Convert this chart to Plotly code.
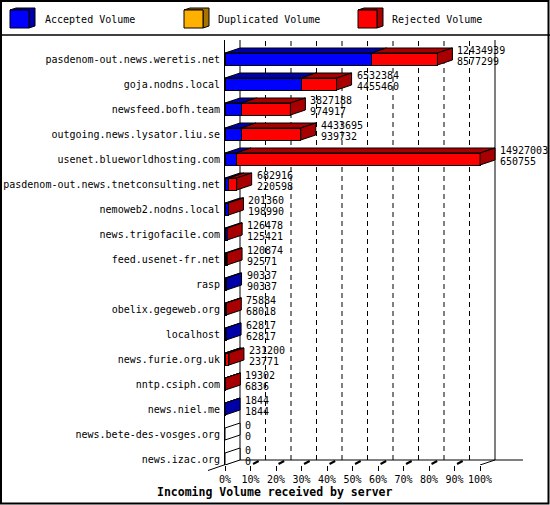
import plotly.graph_objects as go

# ---------------- data ----------------
hosts = [
    "pasdenom-out.news.weretis.net",
    "goja.nodns.local",
    "newsfeed.bofh.team",
    "outgoing.news.lysator.liu.se",
    "usenet.blueworldhosting.com",
    "pasdenom-out.news.tnetconsulting.net",
    "nemoweb2.nodns.local",
    "news.trigofacile.com",
    "feed.usenet-fr.net",
    "rasp",
    "obelix.gegeweb.org",
    "localhost",
    "news.furie.org.uk",
    "nntp.csiph.com",
    "news.niel.me",
    "news.bete-des-vosges.org",
    "news.izac.org",
]
total_volume = [12434939, 6532384, 3827188, 4433695, 14927003, 682916, 201360,
                126478, 120874, 90337, 75884, 62817, 231200, 19302, 1844, 0, 0]
accepted_volume = [8577299, 4455460, 974917, 939732, 650755, 220598, 198990,
                   125421, 92571, 90337, 68018, 62817, 23771, 6836, 1844, 0, 0]
duplicated_volume = [0] * len(hosts)
pct_ticks = [0, 10, 20, 30, 40, 50, 60, 70, 80, 90, 100]
pct_labels = [f"{p}%" for p in pct_ticks]

legend_names = ["Accepted Volume", "Duplicated Volume", "Rejected Volume"]

# ---------------- styles ----------------
FONT = "DejaVu Sans Mono"
BLUE, BLUE_D = "#0000ff", "#0000a8"
ORANGE, ORANGE_D = "#ffb000", "#a87400"
RED, RED_D = "#ff0000", "#a80000"

W, H = 550, 505
L, T, PW, PH = 225, 40, 271, 425
PX_PER_PCT = 2.55
DX = 15 / PX_PER_PCT          # depth in % units
DY = 5 / 25.0                 # depth in category units
HALF = 0.24                   # half bar thickness
xmax = PW / PX_PER_PCT
n = len(hosts)
ypos = list(range(n))

vmax = max(total_volume)
acc_pct = [a / vmax * 100 for a in accepted_volume]
rej_pct = [(t - a) / vmax * 100 for t, a in zip(total_volume, accepted_volume)]


def pxx(px):
    return (px - L) / PW


def pxy(py):
    return (T + PH - py) / PH


fig = go.Figure()
fig.add_trace(go.Bar(orientation="h", y=ypos, x=acc_pct, width=2 * HALF,
                     marker=dict(color=BLUE, line=dict(color="black", width=1)),
                     name=legend_names[0], hoverinfo="skip"))
fig.add_trace(go.Bar(orientation="h", y=ypos, x=rej_pct, width=2 * HALF,
                     marker=dict(color=RED, line=dict(color="black", width=1)),
                     name=legend_names[2], hoverinfo="skip"))

shapes = []
ybottom = n - 1 + HALF
yback = ybottom - DY

# back wall lines
shapes.append(dict(type="line", xref="x", yref="paper", x0=DX, x1=DX, y0=pxy(460), y1=1,
                   line=dict(color="black", width=1), layer="below"))
shapes.append(dict(type="line", xref="x", yref="paper", x0=100 + DX, x1=100 + DX, y0=pxy(460), y1=1,
                   line=dict(color="black", width=1), layer="below"))
for p in pct_ticks[1:-1]:
    shapes.append(dict(type="line", xref="x", yref="paper", x0=p + DX, x1=p + DX, y0=pxy(460), y1=1,
                       line=dict(color="black", width=1, dash="5px,4px"), layer="below"))
# floor
shapes.append(dict(type="line", xref="paper", yref="paper", x0=pxx(240), x1=pxx(523),
                   y0=pxy(460), y1=pxy(460), line=dict(color="black", width=1)))
shapes.append(dict(type="line", xref="paper", yref="paper", x0=pxx(208), x1=pxx(240),
                   y0=pxy(470.5), y1=pxy(459.5), line=dict(color="black", width=1)))
shapes.append(dict(type="line", xref="x", yref="y", x0=100, x1=100 + DX,
                   y0=ybottom, y1=yback, line=dict(color="black", width=1)))
for p in pct_ticks[1:-1]:
    shapes.append(dict(type="line", xref="x", yref="y", x0=p + 1.0, x1=p + 3.2,
                       y0=ybottom - 0.04, y1=ybottom - 0.16, line=dict(color="black", width=2)))

# 3D faces of bars
for i in range(n):
    a, r = acc_pct[i], rej_pct[i]
    t = a + r
    yt, yb = i - HALF, i + HALF
    segs = [(0, a, BLUE_D), (a, t, RED_D)]
    for x0, x1, c in segs:
        if x1 - x0 > 0:
            shapes.append(dict(type="path", xref="x", yref="y",
                               path=f"M {x0},{yt} L {x0 + DX},{yt - DY} L {x1 + DX},{yt - DY} L {x1},{yt} Z",
                               fillcolor=c, line=dict(color="black", width=1)))
    side = RED_D if r > 0 else (BLUE_D if a > 0 else "white")
    shapes.append(dict(type="path", xref="x", yref="y",
                       path=f"M {t},{yt} L {t + DX},{yt - DY} L {t + DX},{yb - DY} L {t},{yb} Z",
                       fillcolor=side, line=dict(color="black", width=1)))

# legend cubes, separator and frame
cube_x = [10, 184, 358]
cube_cols = [(BLUE, BLUE_D), (ORANGE, ORANGE_D), (RED, RED_D)]
text_x = [43, 216, 390]
annotations = []
for cx, (cf, cd), tx, name in zip(cube_x, cube_cols, text_x, legend_names):
    x0, x1, y0, y1 = cx, cx + 19, 10, 28
    shapes.append(dict(type="path", xref="paper", yref="paper",
                       path=f"M {pxx(x0)},{pxy(y0)} L {pxx(x0 + 6)},{pxy(y0 - 2)} L {pxx(x1 + 6)},{pxy(y0 - 2)} "
                            f"L {pxx(x1 + 6)},{pxy(y1 - 2)} L {pxx(x1)},{pxy(y1)} L {pxx(x1)},{pxy(y0)} Z",
                       fillcolor=cd, line=dict(color="black", width=1)))
    shapes.append(dict(type="rect", xref="paper", yref="paper",
                       x0=pxx(x0), x1=pxx(x1), y0=pxy(y1), y1=pxy(y0),
                       fillcolor=cf, line=dict(color="black", width=1)))
    annotations.append(dict(xref="paper", yref="paper", x=pxx(tx), y=pxy(20),
                            xanchor="left", yanchor="middle", showarrow=False, text=name,
                            font=dict(family=FONT, size=10, color="black")))

shapes.append(dict(type="line", xref="paper", yref="paper", x0=pxx(0), x1=pxx(550),
                   y0=pxy(35), y1=pxy(35), line=dict(color="black", width=1.5)))
shapes.append(dict(type="rect", xref="paper", yref="paper", x0=pxx(1), x1=pxx(548.5),
                   y0=pxy(503.5), y1=pxy(1), line=dict(color="black", width=2)))

# value labels
for i in range(n):
    xe = acc_pct[i] + rej_pct[i] + DX
    annotations.append(dict(xref="x", yref="y", x=xe, y=i, xanchor="left", yanchor="middle",
                            xshift=3, yshift=9, showarrow=False, text=str(total_volume[i]),
                            font=dict(family=FONT, size=10, color="black")))
    annotations.append(dict(xref="x", yref="y", x=xe, y=i, xanchor="left", yanchor="middle",
                            xshift=3, yshift=-2, showarrow=False, text=str(accepted_volume[i]),
                            font=dict(family=FONT, size=10, color="black")))

annotations.append(dict(xref="paper", yref="paper", x=pxx(274), y=pxy(492), xanchor="center",
                        yanchor="middle", showarrow=False, text="<b>Incoming Volume received by server</b>",
                        font=dict(family=FONT, size=11.5, color="black")))

fig.update_layout(
    width=W, height=H, barmode="stack", showlegend=False, hovermode=False,
    margin=dict(l=L, r=W - L - PW, t=T, b=H - T - PH, pad=0, autoexpand=False),
    paper_bgcolor="white", plot_bgcolor="white",
    font=dict(family=FONT, size=10, color="black"),
    shapes=shapes, annotations=annotations,
    xaxis=dict(range=[0, xmax], tickvals=pct_ticks, ticktext=pct_labels, automargin=False,
               showgrid=False, zeroline=False, showline=False,
               ticks="outside", ticklen=5, tickcolor="black", tickwidth=1,
               tickfont=dict(family=FONT, size=10, color="black")),
    yaxis=dict(range=[n - 1 + HALF, -0.76], tickvals=ypos, ticktext=hosts, automargin=False,
               showgrid=False, zeroline=False, showline=True, linecolor="black", linewidth=1,
               ticks="", ticklabelstandoff=2,
               tickfont=dict(family=FONT, size=10, color="black")),
)

fig.write_html("out.html", config={"displayModeBar": False},
               post_script="document.body.style.margin='0';document.body.style.overflow='hidden';")
